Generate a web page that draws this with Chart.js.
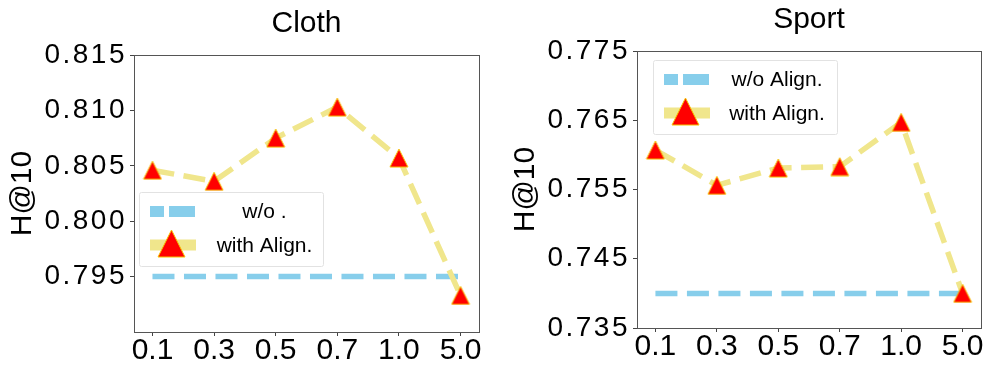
<!DOCTYPE html>
<html>
<head>
<meta charset="utf-8">
<script src="https://cdn.jsdelivr.net/npm/chart.js@4/dist/chart.umd.min.js"></script>
<style>
  body { margin: 0; background: #fff; }
  .wrap { display: flex; width: 996px; height: 380px; }
</style>
</head>
<body>
<div class="wrap">
  <canvas id="chart-1" width="498" height="380"></canvas>
  <canvas id="chart-2" width="498" height="380"></canvas>
</div>
<script>
// x values (alignment weight) shown as categories
const params = ["0.1", "0.3", "0.5", "0.7", "1.0", "5.0"];

// Cloth
const clothWith = [0.8046, 0.8036, 0.8075, 0.8103, 0.8057, 0.7933];
const clothWithout = [0.795, 0.795, 0.795, 0.795, 0.795, 0.795];
const clothTicks = [0.795, 0.8, 0.805, 0.81, 0.815];
const clothRange = [0.790, 0.815];
const clothLabels = ["w/o .", "with Align."];

// Sport
const sportWith = [0.7607, 0.7556, 0.7581, 0.7583, 0.7647, 0.7400];
const sportWithout = [0.740, 0.740, 0.740, 0.740, 0.740, 0.740];
const sportTicks = [0.735, 0.745, 0.755, 0.765, 0.775];
const sportRange = [0.735, 0.775];
const sportLabels = ["w/o Align.", "with Align."];

const BLUE = "#87CEEB";
const KHAKI = "#F0E68C";
const RED = "#FF0000";
const EDGE = "#F5C400";

Chart.defaults.font.family = "'Liberation Sans', Arial, sans-serif";
Chart.defaults.color = "#000";

function drawTri(ctx, cx, cy, size) {
  const h = size / 2;
  ctx.beginPath();
  ctx.moveTo(cx, cy - h);
  ctx.lineTo(cx - h, cy + h);
  ctx.lineTo(cx + h, cy + h);
  ctx.closePath();
  ctx.fillStyle = RED;
  ctx.fill();
  ctx.lineWidth = 1;
  ctx.strokeStyle = EDGE;
  ctx.stroke();
}

function triMarker(size) {
  const c = document.createElement("canvas");
  c.width = size + 2;
  c.height = size + 2;
  drawTri(c.getContext("2d"), c.width / 2, c.height / 2, size);
  return c;
}
const marker = triMarker(18);

// full box around plot + legend drawn inside axes
const framePlugin = {
  id: "frame",
  afterUpdate(chart) {
    const s = chart.scales.y;
    if (s._spaced) return;
    const orig = s.drawLabels;
    s.drawLabels = function (area) {
      const c = this.ctx;
      c.save();
      c.letterSpacing = "2.5px";
      orig.call(this, area);
      c.restore();
    };
    s._spaced = true;
  },
  afterDatasetsDraw(chart, args, opts) {
    const { ctx, chartArea: a } = chart;
    ctx.save();
    ctx.strokeStyle = "#555";
    ctx.lineWidth = 1;
    ctx.strokeRect(Math.round(a.left) + 0.5, Math.round(a.top) + 0.5,
      Math.round(a.right - a.left), Math.round(a.bottom - a.top));

    // legend
    const x = a.left + opts.dx, y = a.top + opts.dy;
    const w = 184, h = 74;
    ctx.fillStyle = "rgba(255,255,255,0.85)";
    ctx.strokeStyle = "#e2e2e2";
    ctx.beginPath();
    ctx.roundRect(x + 0.5, y + 0.5, w, h, 2);
    ctx.fill();
    ctx.stroke();

    const r1 = y + 19.5, r2 = y + 53;
    ctx.lineWidth = 11;
    ctx.strokeStyle = BLUE;
    ctx.setLineDash([26, 5]);
    ctx.lineDashOffset = 12;
    ctx.beginPath();
    ctx.moveTo(x + 11, r1);
    ctx.lineTo(x + 57, r1);
    ctx.stroke();
    ctx.setLineDash([]);
    ctx.strokeStyle = KHAKI;
    ctx.beginPath();
    ctx.moveTo(x + 11, r2);
    ctx.lineTo(x + 57, r2);
    ctx.stroke();
    drawTri(ctx, x + 32.5, r2 - 1.5, 27);

    ctx.fillStyle = "#000";
    ctx.font = "21px 'Liberation Sans', Arial, sans-serif";
    ctx.textAlign = "center";
    ctx.textBaseline = "middle";
    ctx.fillText(opts.labels[0], x + opts.tx, r1 + 1);
    ctx.fillText(opts.labels[1], x + opts.tx, r2 + 1);
    ctx.restore();
  }
};

function makeChart(id, title, withVals, withoutVals, ticks, range, labels, lay) {
  const ctx = document.getElementById(id).getContext("2d");
  return new Chart(ctx, {
    type: "line",
    data: {
      datasets: [
        {
          label: labels[1],
          data: withVals.map((v, i) => ({ x: i, y: v })),
          borderColor: KHAKI,
          borderWidth: 5.5,
          borderDash: [22, 9.5],
          pointStyle: marker,
          pointRadius: 9,
          tension: 0,
          clip: false,
        },
        {
          label: labels[0],
          data: withoutVals.map((v, i) => ({ x: i, y: v })),
          borderColor: BLUE,
          borderWidth: 5.5,
          borderDash: [22, 9.5],
          pointRadius: 0,
          tension: 0,
          clip: false,
        },
      ],
    },
    options: {
      responsive: false,
      animation: false,
      events: [],
      devicePixelRatio: 1,
      layout: { padding: { left: 0, right: lay.right, top: 0, bottom: 0 } },
      plugins: {
        legend: { display: false },
        tooltip: { enabled: false },
        title: {
          display: true,
          text: title,
          fullSize: false,
          color: "#000",
          font: { size: 30, weight: "normal" },
          padding: { top: lay.titleTop, bottom: lay.titleBottom },
        },
        frame: { dx: lay.legX, dy: lay.legY, tx: lay.legText, labels: labels },
      },
      scales: {
        x: {
          type: "linear",
          min: -0.3,
          max: 5.3,
          afterBuildTicks: (s) => { s.ticks = params.map((_, i) => ({ value: i })); },
          afterFit: (s) => { s.height = lay.xh; },
          ticks: {
            autoSkip: false,
            maxRotation: 0,
            padding: 0,
            color: "#000",
            font: { size: 30, lineHeight: 1 },
            callback: (v) => params[v],
          },
          grid: { drawOnChartArea: false, tickLength: 4, color: "#444" },
          border: { display: false },
        },
        y: {
          min: range[0],
          max: range[1],
          afterBuildTicks: (s) => { s.ticks = ticks.map((v) => ({ value: v })); },
          afterFit: (s) => { s.width = lay.yw; },
          ticks: {
            padding: 3,
            color: "#000",
            font: { size: 28 },
            callback: (v) => v.toFixed(3),
          },
          grid: { drawOnChartArea: false, tickLength: 4, color: "#444" },
          border: { display: false },
          title: {
            display: true,
            text: "H@10",
            color: "#000",
            font: { size: 30 },
            padding: { top: lay.ytp, bottom: 0 },
          },
        },
      },
    },
    plugins: [framePlugin],
  });
}

makeChart("chart-1", "Cloth", clothWith, clothWithout, clothTicks, clothRange, clothLabels, {
  right: 19, titleTop: 6, titleBottom: 13, xh: 48, yw: 134, ytp: 5,
  legX: 5, legY: 137, legText: 125.5,
});

makeChart("chart-2", "Sport", sportWith, sportWithout, sportTicks, sportRange, sportLabels, {
  right: 15, titleTop: 2, titleBottom: 13, xh: 52, yw: 139, ytp: 10,
  legX: 16, legY: 9, legText: 124,
});
</script>
</body>
</html>
